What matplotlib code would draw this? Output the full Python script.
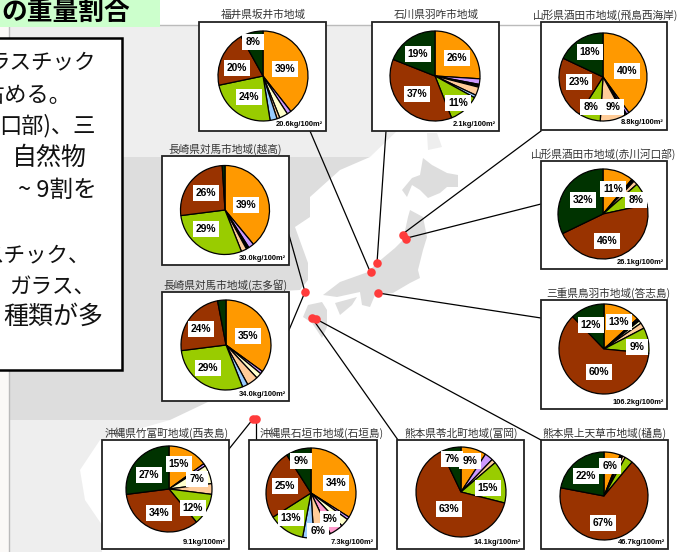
import matplotlib
matplotlib.use("Agg")
import matplotlib.pyplot as plt
from matplotlib.patches import Polygon, Rectangle

plt.rcParams['font.family'] = ['Noto Sans CJK JP', 'DejaVu Sans']

W, H = 677, 552

# wedge order, clockwise from 12 o'clock
colors = ['#FF9900', '#CC99FF', '#000000', '#FFFFCC', '#FF99CC', '#FFCC99', '#99CCFF', '#99CC00', '#993300', '#003300']

titles = ['福井県坂井市地域', '石川県羽咋市地域', '山形県酒田市地域(飛島西海岸)', '山形県酒田市地域(赤川河口部)',
          '長崎県対馬市地域(越高)', '長崎県対馬市地域(志多留)', '三重県鳥羽市地域(答志島)',
          '沖縄県竹富町地域(西表島)', '沖縄県石垣市地域(石垣島)', '熊本県苓北町地域(富岡)', '熊本県上天草市地域(樋島)']
weights = ['20.6', '2.1', '8.8', '26.1', '30.0', '34.0', '106.2', '9.1', '7.3', '14.1', '46.7']

sakai = [39, 1.5, 0, 3, 0, 1, 2.5, 24, 20, 8]
hakui = [26, 2, 0.5, 0.5, 0, 3, 1, 11, 37, 19]
tobishima = [40, 1, 1, 0, 0, 9, 0, 8, 23, 18]
akagawa = [11, 0, 1, 0, 0, 1.5, 0, 8, 46, 32]
koshitaka = [39, 2, 1, 0, 0, 2, 0, 29, 26, 1]
shitaru = [35, 1, 0, 2, 0, 4, 2, 29, 24, 3]
toshijima = [13, 0.5, 0.5, 1, 0, 2, 0, 9, 60, 12]
iriomote = [15, 1, 0, 7, 0, 4, 0, 12, 34, 27]
ishigaki = [34, 1, 0, 3, 5, 6, 4, 13, 25, 9]
tomioka = [9, 3, 0, 0, 0, 1.5, 0, 15, 63, 7]
hijima = [6, 0, 1, 0, 0, 1, 0, 3, 67, 22]
site_values = [sakai, hakui, tobishima, akagawa, koshitaka, shitaru, toshijima, iriomote, ishigaki, tomioka, hijima]

# panel boxes in pixels from top left: x0, y0, x1, y1
boxes = [(199, 22, 326, 131), (372, 22, 499, 131), (541, 22, 667, 130), (541, 161, 667, 269),
         (162, 156, 289, 265), (162, 292, 289, 401), (541, 300, 667, 409),
         (102, 440, 229, 549), (249, 440, 377, 549), (397, 440, 524, 549), (541, 440, 668, 549)]
title_x = [263, 436, 606, 604, 225, 226, 608, 167, 322, 461, 605]
centers = [(263, 76), (435, 76), (603, 77), (603, 214), (225, 210), (226, 345), (604, 349),
           (169, 489), (311, 493), (461, 492), (604, 496)]
radii = [45, 45, 44, 45, 44.5, 45, 45, 43, 45, 45, 44]

# where the percent boxes sit, one per wedge of 5% or more
label_pos = [
    [(285, 69), (249, 97), (237, 68), (253, 42)],
    [(457, 58), (458, 103), (417, 94), (418, 54)],
    [(627, 71), (613, 107), (591, 107), (579, 82), (590, 52)],
    [(613, 189), (636, 200), (607, 241), (583, 200)],
    [(246, 205), (206, 229), (206, 193)],
    [(248, 336), (208, 368), (201, 329)],
    [(619, 322), (637, 347), (599, 372), (591, 325)],
    [(179, 464), (197, 479), (193, 508), (159, 513), (149, 475)],
    [(336, 483), (330, 519), (318, 531), (291, 518), (285, 486), (301, 461)],
    [(470, 461), (488, 488), (449, 509), (452, 459)],
    [(610, 466), (603, 523), (586, 476)],
]

dots = [(377, 263), (371, 272), (403, 235), (406, 239), (305, 292), (378, 293),
        (312, 318), (316, 319), (253, 419), (256, 419)]
leaders = [((310, 131), (369, 269)), ((386, 131), (377, 263)), ((541, 131), (404, 233)),
           ((541, 204), (407, 238)), ((289, 235), (305, 292)), ((289, 330), (305, 292)),
           ((541, 318), (378, 293)), ((229, 449), (253, 419)), ((256, 440), (256, 419)),
           ((398, 440), (312, 318)), ((541, 440), (316, 319))]

mainland = [(9, 26), (385, 26), (398, 130), (370, 157), (340, 170), (310, 197), (310, 217), (295, 227),
            (308, 263), (308, 280), (300, 290), (262, 292), (280, 350), (210, 401), (170, 420), (100, 440),
            (80, 470), (85, 500), (102, 525), (102, 552), (9, 552)]
hokkaido = [(423, 158), (432, 165), (447, 173), (458, 175), (458, 187), (447, 187), (440, 193), (428, 198),
            (420, 190), (412, 185), (407, 197), (402, 190), (412, 178), (420, 175)]
honshu = [(410, 210), (423, 217), (427, 237), (423, 250), (418, 270), (420, 278), (410, 283), (393, 293),
          (375, 295), (370, 307), (362, 305), (360, 292), (337, 297), (323, 295), (340, 282), (368, 272),
          (377, 263), (395, 248), (403, 240), (408, 217)]
shikoku = [(335, 303), (357, 297), (352, 305), (340, 315)]
kyushu = [(308, 305), (322, 302), (327, 310), (327, 327), (322, 338), (312, 323), (303, 317)]
sakhalin = [(427, 133), (437, 133), (442, 147), (428, 150)]

# left text box, cut by the edge of the slide
body_lines = ['ラスチック', '占める。', '口部)、三', '自然物', '~ 9割を', 'スチック、', 'ガラス、', '種類が多']
body_right = [96, 72, 96, 87, 97, 90, 95, 103]
body_y = [62, 95, 126, 158, 190, 255, 287, 317]
body_size = [15.5, 16, 16, 18, 17, 15.5, 15.5, 18]


def flip(p):
    return (p[0], H - p[1])


fig = plt.figure(figsize=(W / 100, H / 100), dpi=100)
ax = fig.add_axes([0, 0, 1, 1])

# map background
ax.add_patch(Rectangle((0, 0), 9, H, fc='#FBF9F7', ec='none', zorder=0))
for shape in [mainland, hokkaido, honshu, shikoku, kyushu, sakhalin]:
    pts = [flip(p) for p in shape]
    for y0, y1, col in [(26, 157, '#EEEEEE'), (157, 420, '#DDDDDD'), (420, 552, '#EEEEEE')]:
        poly = Polygon(pts, fc=col, ec='none', zorder=1)
        ax.add_patch(poly)
        poly.set_clip_path(Rectangle((0, H - y1), W, y1 - y0, transform=ax.transData))
ax.plot([9, 9], [0, H - 27], color='#BBBBBB', lw=1, zorder=2)
ax.plot([160, 541], [H - 25, H - 25], color='#BBBBBB', lw=1, zorder=2)

for a, b in leaders:
    ax.plot([a[0], b[0]], [H - a[1], H - b[1]], color='black', lw=0.9, zorder=3)
ax.scatter([d[0] for d in dots], [H - d[1] for d in dots], s=38, color='#FF3B3B', linewidths=0, zorder=4)

# title strip and text box
ax.add_patch(Rectangle((0, H - 27), 160, 27, fc='#CCFFCC', ec='none', zorder=5))
ax.text(130, H - 12, 'の重量割合', ha='right', va='center', fontsize=18.5, fontweight='bold', color='black', zorder=6)
ax.add_patch(Rectangle((-5, H - 370), 127, 332, fc='white', ec='black', lw=1.8, zorder=5))
for line, xr, yc, fs in zip(body_lines, body_right, body_y, body_size):
    ax.text(xr, H - yc, line, ha='right', va='center', fontsize=fs, color='#111111', zorder=6)

for i in range(len(site_values)):
    x0, y0, x1, y1 = boxes[i]
    ax.add_patch(Rectangle((x0, H - y1), x1 - x0, y1 - y0, fc='white', ec='#222222', lw=1.3, zorder=5))
    ax.text(title_x[i], H - y0 + 7, titles[i], ha='center', va='center', fontsize=7.7, color='#333333', zorder=6)

    vals = [v for v in site_values[i] if v > 0]
    cols = [c for v, c in zip(site_values[i], colors) if v > 0]
    cx, cy = centers[i]
    wedges, _ = ax.pie(vals, colors=cols, startangle=90, counterclock=False, radius=radii[i],
                       center=(cx, H - cy), frame=True,
                       wedgeprops={'edgecolor': 'black', 'linewidth': 0.9})
    for w in wedges:
        w.set_zorder(6)

    big = [v for v in vals if v >= 5]
    for v, (lx, ly) in zip(big, label_pos[i]):
        ax.text(lx, H - ly, f'{v:.0f}%', ha='center', va='center', fontsize=7.4, fontweight='bold',
                family=['Liberation Sans', 'DejaVu Sans'], color='black', zorder=8,
                bbox={'fc': 'white', 'ec': 'none', 'pad': 2.2})
    ax.text(x1 - 3, H - y1 + 7, weights[i] + 'kg/100m²', ha='right', va='center', fontsize=5.4, fontweight='bold',
            family=['Liberation Sans', 'DejaVu Sans'], color='black', zorder=8)

ax.set_xlim(0, W)
ax.set_ylim(0, H)
ax.set_aspect('auto')
ax.axis('off')

fig.savefig('out.png', dpi=100)
